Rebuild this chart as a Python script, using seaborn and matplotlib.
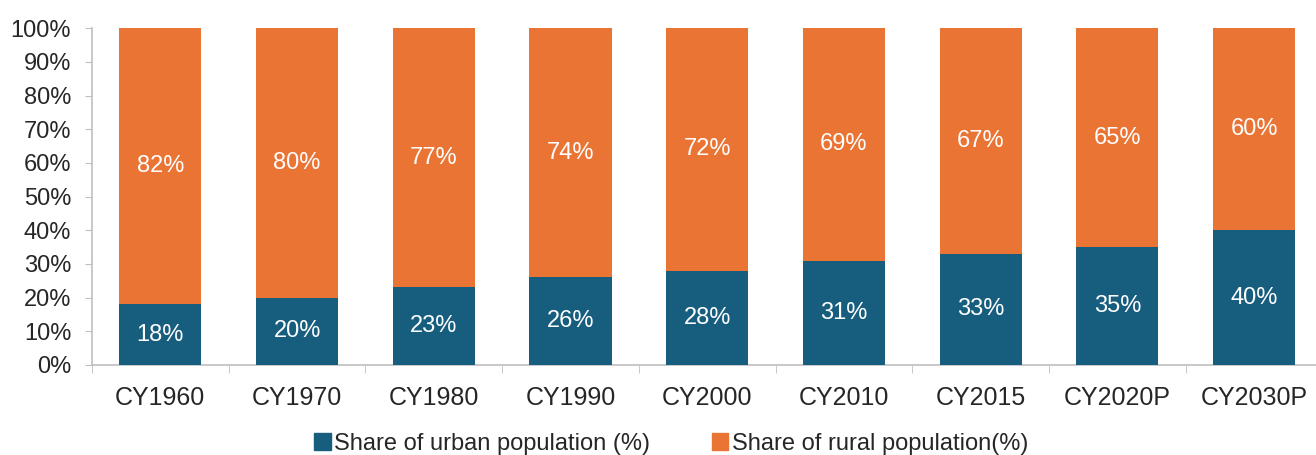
import seaborn as sns
import matplotlib.pyplot as plt
import matplotlib.patches as mpatches
import pandas as pd
import numpy as np

sns.set_style("white")
plt.rcParams["font.family"] = ["Liberation Sans", "DejaVu Sans"]

# Data
years = ["CY1960", "CY1970", "CY1980", "CY1990", "CY2000",
         "CY2010", "CY2015", "CY2020P", "CY2030P"]
urban = [18, 20, 23, 26, 28, 31, 33, 35, 40]
rural = [82, 80, 77, 74, 72, 69, 67, 65, 60]

blue = "#175E7E"
orange = "#EA7434"
grey = "#BFBFBF"

df = pd.DataFrame({"year": years, "urban": urban, "rural": rural})
df["total"] = df["urban"] + df["rural"]

fig = plt.figure(figsize=(13.16, 4.55), dpi=100)
ax = fig.add_axes([0.0699, 0.198, 0.935, 0.74])

# stacked bars: full height in orange, urban share drawn over it
sns.barplot(data=df, x="year", y="total", color=orange, width=0.6,
            saturation=1, linewidth=0, ax=ax, zorder=2)
sns.barplot(data=df, x="year", y="urban", color=blue, width=0.6,
            saturation=1, linewidth=0, ax=ax, zorder=3)

for i, (u, r) in enumerate(zip(urban, rural)):
    ax.text(i, u / 2, f"{u}%", ha="center", va="center", color="white",
            fontsize=17, zorder=4)
    ax.text(i, u + r / 2, f"{r}%", ha="center", va="center", color="white",
            fontsize=17, zorder=4)

ax.set_ylim(0, 100)
ax.set_xlim(-0.5, 8.5)
ax.set_yticks(np.arange(0, 101, 10))
ax.set_yticklabels([f"{v}%" for v in range(0, 101, 10)])
ax.set_xlabel("")
ax.set_ylabel("")

for s in ["top", "right"]:
    ax.spines[s].set_visible(False)
for s in ["left", "bottom"]:
    ax.spines[s].set_color(grey)
    ax.spines[s].set_linewidth(1.2)

ax.tick_params(axis="y", which="major", direction="out", length=5,
               color=grey, labelsize=17, pad=10, left=True)
ax.tick_params(axis="x", which="major", length=0, labelsize=18, pad=15)
ax.set_xticks(np.arange(-0.5, 9, 1), minor=True)
ax.tick_params(axis="x", which="minor", direction="out", length=6,
               color=grey, bottom=True)

handles = [mpatches.Patch(color=blue, label="Share of urban population (%)"),
           mpatches.Patch(color=orange, label="Share of rural population(%)")]
fig.legend(handles=handles, loc="center", bbox_to_anchor=(0.51, 0.025),
           ncol=2, frameon=False, fontsize=17, handlelength=0.7,
           handleheight=0.7, handletextpad=0.15, columnspacing=2.6)

plt.savefig("out.png", dpi=100)
plt.close()
